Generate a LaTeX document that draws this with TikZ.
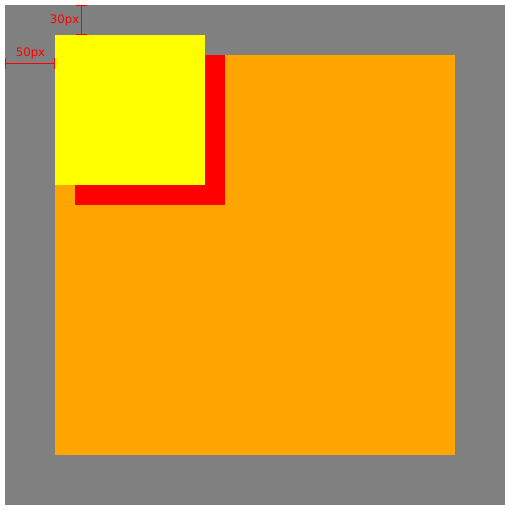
\documentclass[tikz,border=0pt]{standalone}
\usepackage{fontspec}
\setsansfont{DejaVu Sans}
\usetikzlibrary{arrows.meta}
\definecolor{boxgray}{HTML}{808080}
\definecolor{boxorange}{HTML}{FFA500}
\definecolor{boxred}{HTML}{FF0000}
\definecolor{boxyellow}{HTML}{FFFF00}

\begin{document}
\begin{tikzpicture}[x=0.75pt,y=-0.75pt,>=Stealth,
    dimline/.style={boxred,line width=0.75pt,{Bar[width=8.25pt]}-{Bar[width=8.25pt]}},
    dimlabel/.style={boxred,inner sep=0pt,font=\sffamily\fontsize{8.8}{10}\selectfont}]
  \useasboundingbox (0,0) rectangle (510,511);

  % outer box and nested boxes
  \fill[boxgray] (5,5) rectangle (505,505);
  \fill[boxorange] (55,55) rectangle (455,455);
  \fill[boxred] (75,55) rectangle (225,205);
  \fill[boxyellow] (55,35) rectangle (205,185);

  % offsets
  \coordinate (leftA) at (5,63);
  \coordinate (leftB) at (55,63);
  \coordinate (topA) at (81,5);
  \coordinate (topB) at (81,35);
  \draw[dimline] (leftA) -- (leftB);
  \draw[dimline] (topA) -- (topB);
  \node[dimlabel] (leftlbl) at (30.5,53) {50px};
  \node[dimlabel,anchor=east] (toplbl) at (79.5,20) {30px};
\end{tikzpicture}
\end{document}
